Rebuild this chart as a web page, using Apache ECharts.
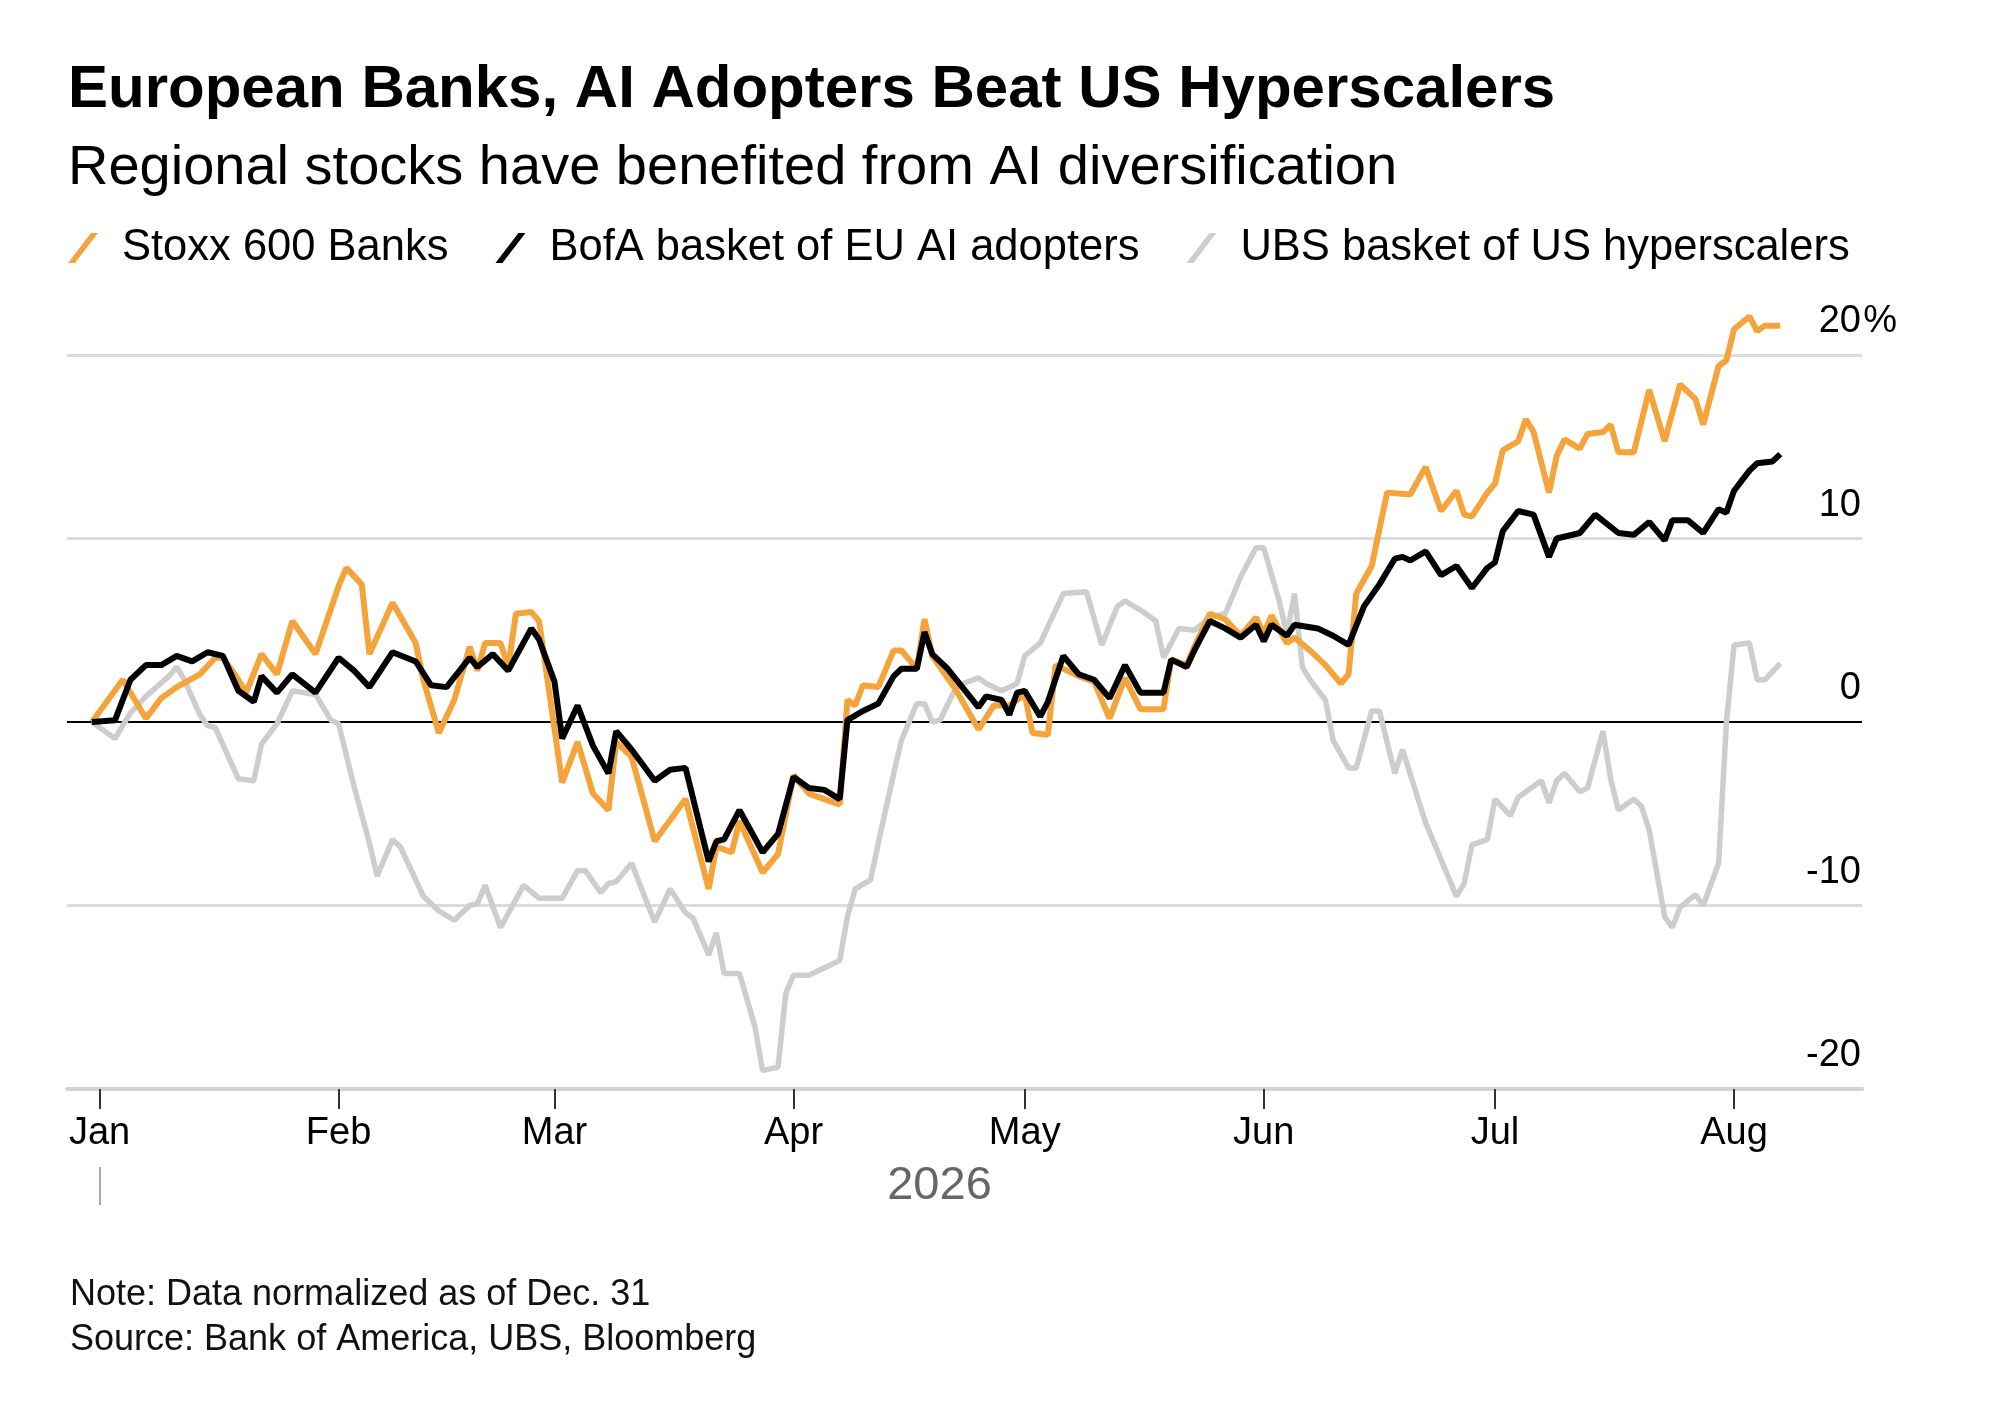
<!DOCTYPE html>
<html>
<head>
<meta charset="utf-8">
<title>European Banks, AI Adopters Beat US Hyperscalers</title>
<script src="https://cdn.jsdelivr.net/npm/echarts@6.0.0/dist/echarts.min.js"></script>
<style>
  html, body { margin: 0; padding: 0; background: #fff; }
  #chart { width: 2000px; height: 1410px; }
</style>
</head>
<body>
<div id="chart"></div>
<script>
// Stoxx 600 Banks, % change since Dec. 31
const banksDates = [
  '2025-12-31', '2026-01-04', '2026-01-07', '2026-01-09', '2026-01-11', '2026-01-14', '2026-01-16', '2026-01-17',
  '2026-01-19', '2026-01-20', '2026-01-22', '2026-01-24', '2026-01-26', '2026-01-28', '2026-01-29', '2026-02-01',
  '2026-02-02', '2026-02-04', '2026-02-05', '2026-02-08', '2026-02-11', '2026-02-12', '2026-02-14', '2026-02-16',
  '2026-02-18', '2026-02-19', '2026-02-20', '2026-02-22', '2026-02-23', '2026-02-24', '2026-02-26', '2026-02-27',
  '2026-03-02', '2026-03-04', '2026-03-06', '2026-03-08', '2026-03-09', '2026-03-11', '2026-03-14', '2026-03-18',
  '2026-03-21', '2026-03-22', '2026-03-24', '2026-03-25', '2026-03-28', '2026-03-30', '2026-04-01', '2026-04-03',
  '2026-04-07', '2026-04-08', '2026-04-09', '2026-04-10', '2026-04-12', '2026-04-14', '2026-04-15', '2026-04-17',
  '2026-04-18', '2026-04-19', '2026-04-22', '2026-04-25', '2026-04-27', '2026-04-29', '2026-05-01', '2026-05-02',
  '2026-05-04', '2026-05-05', '2026-05-08', '2026-05-10', '2026-05-12', '2026-05-14', '2026-05-16', '2026-05-19',
  '2026-05-20', '2026-05-22', '2026-05-23', '2026-05-25', '2026-05-27', '2026-05-29', '2026-05-31', '2026-06-01',
  '2026-06-02', '2026-06-04', '2026-06-05', '2026-06-07', '2026-06-09', '2026-06-11', '2026-06-12', '2026-06-13',
  '2026-06-15', '2026-06-17', '2026-06-20', '2026-06-22', '2026-06-24', '2026-06-26', '2026-06-27', '2026-06-28',
  '2026-06-30', '2026-07-01', '2026-07-02', '2026-07-04', '2026-07-05', '2026-07-06', '2026-07-08', '2026-07-09',
  '2026-07-10', '2026-07-12', '2026-07-13', '2026-07-15', '2026-07-16', '2026-07-17', '2026-07-19', '2026-07-21',
  '2026-07-23', '2026-07-25', '2026-07-27', '2026-07-28', '2026-07-30', '2026-07-31', '2026-08-01', '2026-08-03',
  '2026-08-04', '2026-08-05', '2026-08-07'
];
const banksValues = [
  0, 2.3, 0.2, 1.3, 1.9, 2.6, 3.5, 3.5,
  2.3, 1.6, 3.7, 2.6, 5.5, 4.3, 3.7, 7.4,
  8.4, 7.5, 3.7, 6.5, 4.3, 2.3, -0.6, 1.2,
  4.1, 2.8, 4.3, 4.3, 3.0, 5.9, 6.0, 5.5,
  -3.3, -1.1, -3.9, -4.8, -1.1, -1.9, -6.5, -4.2,
  -9.1, -6.8, -7.1, -5.4, -8.2, -7.2, -2.9, -3.9,
  -4.5, 1.2, 0.9, 2.0, 1.9, 3.9, 3.9, 2.9,
  5.6, 3.6, 1.8, -0.4, 0.9, 0.9, 1.5, -0.6,
  -0.7, 3.1, 2.5, 2.2, 0.2, 2.4, 0.7, 0.7,
  3.4, 3.1, 4.1, 5.9, 5.6, 4.7, 5.7, 4.8,
  5.8, 4.3, 4.6, 3.9, 3.1, 2.1, 2.6, 7.0,
  8.5, 12.5, 12.4, 13.9, 11.5, 12.6, 11.3, 11.2,
  12.5, 13.0, 14.8, 15.3, 16.5, 15.8, 12.5, 14.5,
  15.4, 14.9, 15.7, 15.8, 16.2, 14.7, 14.7, 18.1,
  15.3, 18.4, 17.6, 16.2, 19.4, 19.7, 21.4, 22.1,
  21.3, 21.6, 21.6
];

// BofA basket of EU AI adopters
const bofaDates = [
  '2025-12-31', '2026-01-03', '2026-01-05', '2026-01-07', '2026-01-09', '2026-01-11', '2026-01-13', '2026-01-15',
  '2026-01-17', '2026-01-19', '2026-01-21', '2026-01-22', '2026-01-24', '2026-01-26', '2026-01-29', '2026-02-01',
  '2026-02-03', '2026-02-05', '2026-02-08', '2026-02-11', '2026-02-13', '2026-02-15', '2026-02-18', '2026-02-19',
  '2026-02-21', '2026-02-23', '2026-02-26', '2026-02-27', '2026-03-01', '2026-03-02', '2026-03-04', '2026-03-06',
  '2026-03-08', '2026-03-09', '2026-03-11', '2026-03-14', '2026-03-16', '2026-03-18', '2026-03-21', '2026-03-22',
  '2026-03-23', '2026-03-25', '2026-03-28', '2026-03-30', '2026-04-01', '2026-04-03', '2026-04-05', '2026-04-07',
  '2026-04-08', '2026-04-10', '2026-04-12', '2026-04-14', '2026-04-15', '2026-04-17', '2026-04-18', '2026-04-19',
  '2026-04-21', '2026-04-25', '2026-04-26', '2026-04-28', '2026-04-29', '2026-04-30', '2026-05-01', '2026-05-03',
  '2026-05-04', '2026-05-06', '2026-05-08', '2026-05-10', '2026-05-12', '2026-05-14', '2026-05-16', '2026-05-19',
  '2026-05-20', '2026-05-22', '2026-05-23', '2026-05-25', '2026-05-27', '2026-05-29', '2026-05-31', '2026-06-01',
  '2026-06-02', '2026-06-04', '2026-06-05', '2026-06-08', '2026-06-10', '2026-06-12', '2026-06-14', '2026-06-16',
  '2026-06-18', '2026-06-19', '2026-06-20', '2026-06-22', '2026-06-24', '2026-06-26', '2026-06-28', '2026-06-30',
  '2026-07-01', '2026-07-02', '2026-07-04', '2026-07-06', '2026-07-08', '2026-07-09', '2026-07-12', '2026-07-14',
  '2026-07-17', '2026-07-19', '2026-07-21', '2026-07-23', '2026-07-24', '2026-07-26', '2026-07-28', '2026-07-30',
  '2026-07-31', '2026-08-01', '2026-08-03', '2026-08-04', '2026-08-06', '2026-08-07'
];
const bofaValues = [
  0, 0.1, 2.3, 3.1, 3.1, 3.6, 3.3, 3.8,
  3.6, 1.7, 1.1, 2.5, 1.6, 2.6, 1.6, 3.5,
  2.8, 1.9, 3.8, 3.3, 2.0, 1.9, 3.5, 3.0,
  3.7, 2.8, 5.1, 4.5, 2.2, -0.9, 0.9, -1.3,
  -2.8, -0.5, -1.5, -3.2, -2.6, -2.5, -7.6, -6.5,
  -6.4, -4.8, -7.1, -6.1, -3.0, -3.6, -3.7, -4.2,
  0.1, 0.6, 1.0, 2.5, 2.9, 2.9, 4.9, 3.7,
  2.9, 0.8, 1.4, 1.2, 0.4, 1.6, 1.7, 0.3,
  1.1, 3.6, 2.6, 2.3, 1.3, 3.1, 1.6, 1.6,
  3.4, 3.0, 3.9, 5.5, 5.1, 4.6, 5.3, 4.4,
  5.3, 4.7, 5.3, 5.1, 4.7, 4.2, 6.3, 7.5,
  8.9, 9.0, 8.8, 9.3, 8.0, 8.5, 7.3, 8.4,
  8.7, 10.4, 11.5, 11.3, 9.0, 10.0, 10.3, 11.3,
  10.3, 10.2, 10.9, 9.9, 11.0, 11.0, 10.3, 11.6,
  11.4, 12.6, 13.7, 14.1, 14.2, 14.6
];

// UBS basket of US hyperscalers
const ubsDates = [
  '2025-12-31', '2026-01-03', '2026-01-05', '2026-01-07', '2026-01-10', '2026-01-11', '2026-01-12', '2026-01-14',
  '2026-01-15', '2026-01-16', '2026-01-19', '2026-01-21', '2026-01-22', '2026-01-24', '2026-01-26', '2026-01-29',
  '2026-01-31', '2026-02-01', '2026-02-03', '2026-02-05', '2026-02-06', '2026-02-08', '2026-02-09', '2026-02-12',
  '2026-02-14', '2026-02-16', '2026-02-18', '2026-02-19', '2026-02-20', '2026-02-22', '2026-02-25', '2026-02-27',
  '2026-03-02', '2026-03-04', '2026-03-05', '2026-03-07', '2026-03-08', '2026-03-09', '2026-03-11', '2026-03-14',
  '2026-03-16', '2026-03-18', '2026-03-19', '2026-03-21', '2026-03-22', '2026-03-23', '2026-03-25', '2026-03-27',
  '2026-03-28', '2026-03-30', '2026-03-31', '2026-04-01', '2026-04-03', '2026-04-07', '2026-04-08', '2026-04-09',
  '2026-04-11', '2026-04-12', '2026-04-14', '2026-04-15', '2026-04-17', '2026-04-18', '2026-04-19', '2026-04-20',
  '2026-04-22', '2026-04-23', '2026-04-25', '2026-04-26', '2026-04-28', '2026-04-30', '2026-05-01', '2026-05-03',
  '2026-05-04', '2026-05-06', '2026-05-09', '2026-05-11', '2026-05-13', '2026-05-14', '2026-05-16', '2026-05-18',
  '2026-05-19', '2026-05-21', '2026-05-23', '2026-05-25', '2026-05-27', '2026-05-29', '2026-05-31', '2026-06-01',
  '2026-06-03', '2026-06-04', '2026-06-05', '2026-06-06', '2026-06-07', '2026-06-09', '2026-06-10', '2026-06-12',
  '2026-06-13', '2026-06-15', '2026-06-16', '2026-06-18', '2026-06-19', '2026-06-22', '2026-06-24', '2026-06-26',
  '2026-06-27', '2026-06-28', '2026-06-30', '2026-07-01', '2026-07-03', '2026-07-04', '2026-07-07', '2026-07-08',
  '2026-07-09', '2026-07-10', '2026-07-12', '2026-07-13', '2026-07-15', '2026-07-16', '2026-07-17', '2026-07-19',
  '2026-07-20', '2026-07-21', '2026-07-23', '2026-07-24', '2026-07-25', '2026-07-27', '2026-07-28', '2026-07-30',
  '2026-07-31', '2026-08-01', '2026-08-03', '2026-08-04', '2026-08-05', '2026-08-07'
];
const ubsValues = [
  0, -0.9, 0.5, 1.4, 2.5, 3.0, 2.3, 0.4,
  -0.2, -0.3, -3.1, -3.2, -1.2, -0.1, 1.7, 1.5,
  0.1, -0.1, -3.5, -6.6, -8.4, -6.4, -6.8, -9.5,
  -10.3, -10.8, -10.0, -9.9, -8.9, -11.2, -8.9, -9.6,
  -9.6, -8.1, -8.1, -9.3, -8.8, -8.7, -7.7, -10.9,
  -9.1, -10.4, -10.7, -12.7, -11.5, -13.7, -13.7, -16.6,
  -19.0, -18.8, -14.8, -13.8, -13.8, -13.0, -10.6, -9.1,
  -8.6, -6.6, -2.8, -1.0, 1.0, 1.0, 0.0, 0.1,
  1.8, 2.1, 2.4, 2.1, 1.7, 2.1, 3.6, 4.3,
  5.2, 7.0, 7.1, 4.2, 6.3, 6.6, 6.1, 5.5,
  3.5, 5.1, 5.0, 5.7, 5.9, 7.9, 9.5, 9.5,
  6.6, 4.8, 7.0, 3.0, 2.3, 1.2, -1.0, -2.5,
  -2.5, 0.6, 0.6, -2.8, -1.5, -5.5, -7.5, -9.5,
  -8.8, -6.7, -6.4, -4.2, -5.1, -4.1, -3.2, -4.4,
  -3.2, -2.8, -3.8, -3.6, -0.5, -3.1, -4.8, -4.2,
  -4.6, -5.9, -10.6, -11.2, -10.1, -9.4, -10.0, -7.7,
  -0.1, 4.2, 4.3, 2.3, 2.3, 3.2
];

const monthNames = ['Jan', 'Feb', 'Mar', 'Apr', 'May', 'Jun', 'Jul', 'Aug'];

const FONT = '"Liberation Sans", Arial, Helvetica, sans-serif';
const DAY = 24 * 3600 * 1000;

// 'YYYY-MM-DD' -> local timestamp
function ts(s) {
  const p = s.split('-').map(Number);
  return new Date(p[0], p[1] - 1, p[2]).getTime();
}
function pairs(dates, values) {
  return dates.map((d, i) => [ts(d), values[i]]);
}

const jan1 = ts('2026-01-01');
const monthStarts = monthNames.map((m, i) => new Date(2026, i, 1).getTime());
// axis window: a little before Jan 1 to mid-August
const xMin = jan1 - 4.23 * DAY;
const xMax = jan1 + 228.6 * DAY;

const chart = echarts.init(document.getElementById('chart'), null, { renderer: 'canvas' });

const option = {
  animation: false,
  backgroundColor: '#fff',
  textStyle: { fontFamily: FONT },
  title: [
    {
      text: 'European Banks, AI Adopters Beat US Hyperscalers',
      left: 68, top: 60, padding: 0,
      textStyle: { fontSize: 60, fontWeight: 'bold', color: '#000', fontFamily: FONT }
    },
    {
      text: 'Regional stocks have benefited from AI diversification',
      left: 68, top: 141, padding: 0,
      textStyle: { fontSize: 56, fontWeight: 'normal', color: '#000', fontFamily: FONT }
    },
    {
      text: 'Note: Data normalized as of Dec. 31',
      left: 70, top: 1277, padding: 0,
      textStyle: { fontSize: 36, fontWeight: 'normal', color: '#111', fontFamily: FONT }
    },
    {
      text: 'Source: Bank of America, UBS, Bloomberg',
      left: 70, top: 1322, padding: 0,
      textStyle: { fontSize: 36, fontWeight: 'normal', color: '#111', fontFamily: FONT }
    }
  ],
  legend: {
    left: 68, top: 226, padding: 0,
    itemWidth: 30, itemHeight: 30, itemGap: 47,
    icon: 'path://M0,30 L7,30 L30,0 L23,0 Z',
    textStyle: { fontSize: 43.5, color: '#000', fontFamily: FONT, padding: [0, 0, 0, 19] },
    data: ['Stoxx 600 Banks', 'BofA basket of EU AI adopters', 'UBS basket of US hyperscalers']
  },
  grid: {
    left: 67, right: 138, top: 355, bottom: 321,
    containLabel: false,
    outerBoundsMode: 'none'
  },
  xAxis: [
    {
      type: 'value',
      min: xMin, max: xMax,
      name: '2026',
      nameLocation: 'middle',
      nameGap: 74,
      nameTextStyle: { fontSize: 47, color: '#666', fontFamily: FONT, padding: [0, 50, 0, 0] },
      axisLine: { show: true, onZero: false, lineStyle: { color: '#d3d3d3', width: 4 } },
      axisTick: {
        show: true, customValues: monthStarts, length: 20,
        lineStyle: { color: '#333', width: 2 }
      },
      axisLabel: {
        show: true, customValues: monthStarts, margin: 26,
        fontSize: 38, color: '#000', fontFamily: FONT,
        formatter: function (value) { return monthNames[new Date(value).getMonth()]; }
      },
      splitLine: { show: false }
    },
    {
      // year separator tick under the month labels
      type: 'value',
      min: xMin, max: xMax,
      position: 'bottom',
      offset: 78,
      axisLine: { show: false, onZero: false },
      axisTick: {
        show: true, customValues: [jan1], length: 38,
        lineStyle: { color: '#aaa', width: 2 }
      },
      axisLabel: { show: false },
      splitLine: { show: false }
    }
  ],
  yAxis: [
    {
      type: 'value',
      min: -20, max: 20, interval: 10,
      position: 'right',
      axisLine: { show: false },
      axisTick: { show: false },
      axisLabel: {
        inside: false, margin: -91,
        fontSize: 38, color: '#000', fontFamily: FONT,
        verticalAlign: 'bottom',
        padding: [0, 0, 14, 0],
        formatter: function (v) { return v === 20 ? '{n|20}{p|%}' : '{n|' + v + '}'; },
        rich: {
          n: { width: 90, align: 'right', fontSize: 38, color: '#000', fontFamily: FONT },
          p: { width: 36, align: 'right', fontSize: 38, color: '#000', fontFamily: FONT }
        }
      },
      splitLine: {
        show: true,
        lineStyle: { color: ['transparent', '#dcdcdc', 'transparent', '#dcdcdc', '#dcdcdc'], width: 3 }
      }
    },
    {
      // zero line
      type: 'value',
      min: -20, max: 20, interval: 20,
      position: 'left',
      axisLine: { show: false },
      axisTick: { show: false },
      axisLabel: { show: false },
      splitLine: {
        show: true,
        lineStyle: { color: ['transparent', '#000', 'transparent'], width: 2 }
      }
    }
  ],
  series: [
    {
      name: 'UBS basket of US hyperscalers',
      type: 'line',
      data: pairs(ubsDates, ubsValues),
      showSymbol: false, symbol: 'none', clip: false,
      color: '#cdcdcd',
      lineStyle: { color: '#cdcdcd', width: 5.5 }
    },
    {
      name: 'Stoxx 600 Banks',
      type: 'line',
      data: pairs(banksDates, banksValues),
      showSymbol: false, symbol: 'none', clip: false,
      color: '#f5a33b',
      lineStyle: { color: '#f5a33b', width: 6 }
    },
    {
      name: 'BofA basket of EU AI adopters',
      type: 'line',
      data: pairs(bofaDates, bofaValues),
      showSymbol: false, symbol: 'none', clip: false,
      color: '#000',
      lineStyle: { color: '#000', width: 6 }
    }
  ]
};

chart.setOption(option);
</script>
</body>
</html>
